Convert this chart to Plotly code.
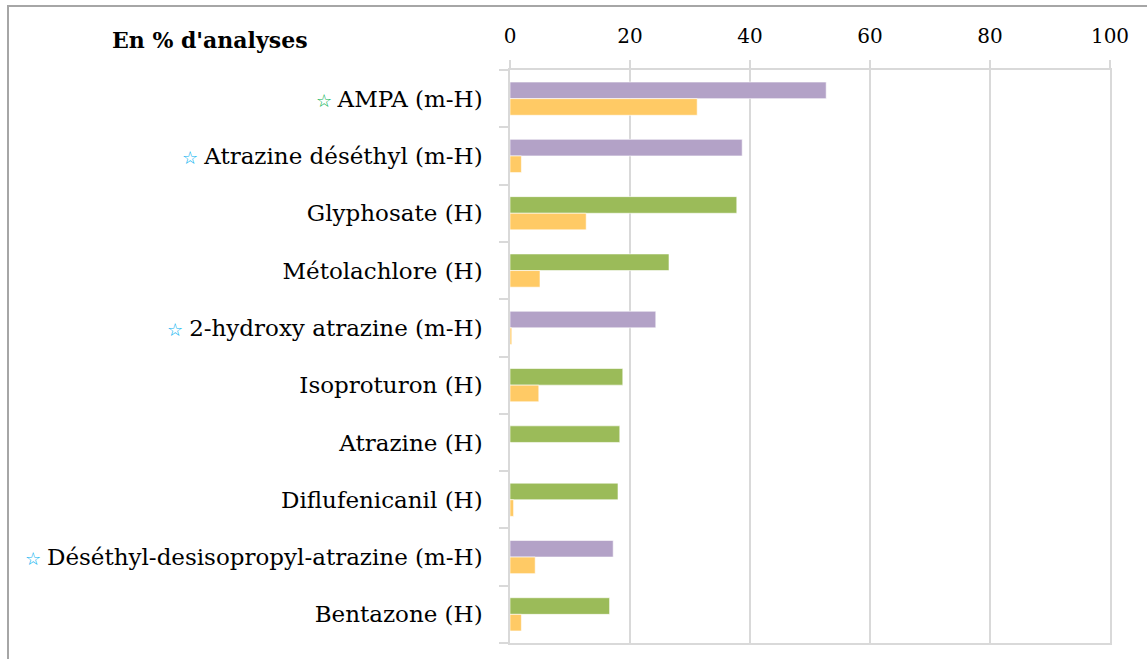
import plotly.graph_objects as go

categories = [
    "AMPA (m-H)",
    "Atrazine déséthyl (m-H)",
    "Glyphosate (H)",
    "Métolachlore (H)",
    "2-hydroxy atrazine (m-H)",
    "Isoproturon (H)",
    "Atrazine (H)",
    "Diflufenicanil (H)",
    "Déséthyl-desisopropyl-atrazine (m-H)",
    "Bentazone (H)",
]
star_colors = ["#00B050", "#00B0F0", None, None, "#00B0F0", None, None, None, "#00B0F0", None]
series_a = [52.7, 38.7, 37.8, 26.5, 24.3, 18.8, 18.3, 18.0, 17.2, 16.6]
series_b = [31.2, 1.9, 12.7, 5.0, 0.3, 4.8, 0.0, 0.6, 4.2, 1.9]
x_ticks = [0, 20, 40, 60, 80, 100]

PURPLE = "#B3A2C7"
GREEN = "#9BBB59"
YELLOW = "#FFCA65"
FONT = "Palatino Linotype, Book Antiqua, Palatino, DejaVu Serif, serif"

colors_a = [PURPLE if "(m-H)" in c else GREEN for c in categories]

ticktext = []
for c, s in zip(categories, star_colors):
    if s:
        ticktext.append(f'<span style="color:{s};font-size:18px">☆ </span>{c}')
    else:
        ticktext.append(c)

fig = go.Figure()
fig.add_trace(go.Bar(
    y=categories, x=series_a, orientation="h",
    marker=dict(color=colors_a, line=dict(color="rgba(255,255,255,0.6)", width=1)),
    showlegend=False,
))
fig.add_trace(go.Bar(
    y=categories, x=series_b, orientation="h",
    marker=dict(color=YELLOW, line=dict(color="rgba(255,255,255,0.6)", width=1)),
    showlegend=False,
))

fig.update_layout(
    width=1147, height=659,
    margin=dict(l=510, r=37, t=70, b=16),
    paper_bgcolor="white", plot_bgcolor="white",
    barmode="group", bargap=0.42, bargroupgap=0,
    font=dict(family=FONT, size=23, color="#000000"),
    xaxis=dict(
        side="top", range=[0, 100], tickvals=x_ticks,
        showgrid=True, gridcolor="#D9D9D9", gridwidth=1.5,
        showline=True, linecolor="#D9D9D9", linewidth=1.5, mirror=True,
        ticks="outside", ticklen=8, tickcolor="#D9D9D9", tickwidth=1.5,
        zeroline=False, fixedrange=True, ticklabelstandoff=9,
        tickfont=dict(family=FONT, size=20),
    ),
    yaxis=dict(
        categoryorder="array", categoryarray=categories, autorange="reversed",
        tickvals=categories, ticktext=ticktext,
        showline=True, linecolor="#D9D9D9", linewidth=1.5, mirror=True,
        ticks="outside", tickson="boundaries", ticklen=9, tickcolor="#D9D9D9", tickwidth=1.5,
        showgrid=False, ticklabelstandoff=21,
        tickfont=dict(family=FONT, size=23),
    ),
    annotations=[dict(
        text="<b>En % d'analyses</b>", xref="paper", yref="paper",
        x=-0.5, y=1.052, xanchor="center", yanchor="middle",
        showarrow=False, font=dict(family=FONT, size=22),
    )],
    shapes=[dict(
        type="rect", xref="paper", yref="paper",
        x0=(8 - 510) / 600, x1=(1160 - 510) / 600,
        y0=(643 - 670) / 573, y1=(643 - 6) / 573,
        line=dict(color="#A6A6A6", width=2), fillcolor="rgba(0,0,0,0)", layer="below",
    )],
)

fig.write_html(
    "out.html",
    config={"displayModeBar": False},
    post_script="document.body.style.margin='0';document.body.style.overflow='hidden';",
)
